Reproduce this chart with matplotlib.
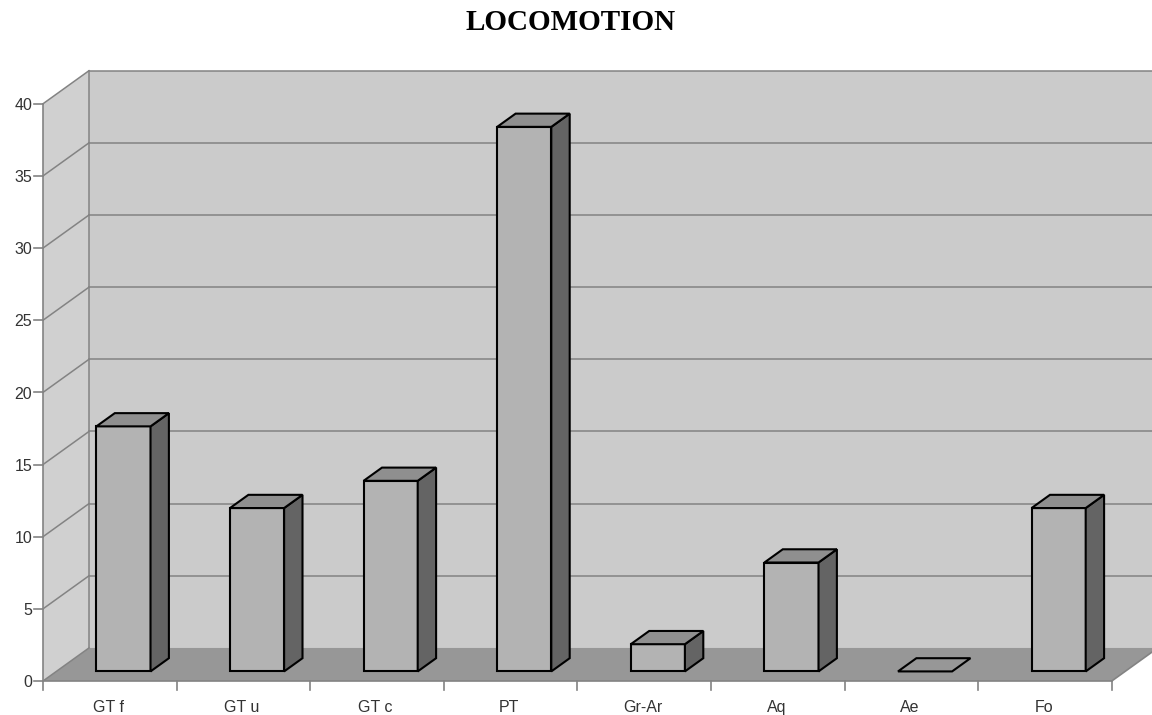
import matplotlib
matplotlib.use("Agg")
import matplotlib.pyplot as plt
from matplotlib.patches import Polygon

# Locomotion categories and their share (%) of the 53 cases
categories = ["GT f", "GT u", "GT c", "PT", "Gr-Ar", "Aq", "Ae", "Fo"]
counts = [9, 6, 7, 20, 1, 4, 0, 6]
total = sum(counts)
values = [100.0 * c / total for c in counts]
yticks = [0, 5, 10, 15, 20, 25, 30, 35, 40]
title = "LOCOMOTION"

# pseudo-3D geometry (in data units)
YMAX = 40
DX, DY = 0.344, 2.29          # depth offset of the back wall
BAR_X0, BAR_X1 = 0.30, 0.705  # bar span inside a category slot
BAR_D0, BAR_D1 = 0.29, 0.69   # bar depth span (fraction of the depth)
N = len(categories)

WALL = "#cbcbcb"
SIDE_WALL = "#d0d0d0"
FLOOR = "#979797"
GRID = "#838383"
FRONT = "#b3b3b3"
TOP = "#8f8f8f"
SIDE = "#646464"
LABEL_FONT = "Liberation Sans"

fig = plt.figure(figsize=(11.52, 7.15), dpi=100)
ax = fig.add_axes([0, 0, 1, 1])
ax.set_xlim(-0.3219, 8.301)
ax.set_ylim(-2.356, 47.19)
ax.axis("off")


def poly(pts, fc, ec="none", lw=0.0, z=1):
    ax.add_patch(Polygon(pts, closed=True, facecolor=fc, edgecolor=ec,
                         linewidth=lw, zorder=z, joinstyle="miter"))


# back wall, side wall, floor
poly([(DX, DY), (N + DX, DY), (N + DX, YMAX + DY), (DX, YMAX + DY)], WALL, z=1)
poly([(0, 0), (DX, DY), (DX, YMAX + DY), (0, YMAX)], SIDE_WALL, z=1)
poly([(0, 0), (N, 0), (N + DX, DY), (DX, DY)], FLOOR, z=2)

# gridlines on back and side walls
for t in yticks[1:]:
    ax.plot([DX, N + DX], [t + DY, t + DY], color=GRID, lw=1.1, zorder=1.5)
    ax.plot([0, DX], [t, t + DY], color=GRID, lw=1.1, zorder=1.5)
ax.plot([DX, DX], [DY, YMAX + DY], color=GRID, lw=1.1, zorder=1.5)
ax.plot([0, DX], [0, DY], color=GRID, lw=1.1, zorder=2.5)

# axes lines and ticks
ax.plot([0, 0], [0, YMAX], color=GRID, lw=1.2, zorder=3)
ax.plot([0, N], [0, 0], color=GRID, lw=1.2, zorder=3)
ax.plot([N, N + DX], [0, DY], color=GRID, lw=1.2, zorder=3)
for t in yticks:
    ax.plot([-0.065, 0], [t, t], color=GRID, lw=1.2, zorder=3)
    ax.text(-0.082, t - 0.12, str(t), ha="right", va="center", fontsize=11.5,
            color="#333333", family=LABEL_FONT)
for k in range(N + 1):
    ax.plot([k, k], [0, -0.62], color=GRID, lw=1.2, zorder=3)
for i, lab in enumerate(categories):
    ax.text(i + 0.49, -1.85, lab, ha="center", va="center", fontsize=11.5,
            color="#333333", family=LABEL_FONT)

# bars
for i, v in enumerate(values):
    x0, x1 = i + BAR_X0, i + BAR_X1
    fx, fy = BAR_D0 * DX, BAR_D0 * DY
    bx, by = BAR_D1 * DX, BAR_D1 * DY
    z = 5 + i
    if v > 0:
        poly([(x0 + fx, fy), (x1 + fx, fy), (x1 + fx, v + fy), (x0 + fx, v + fy)],
             FRONT, "black", 1.5, z)
        poly([(x1 + fx, fy), (x1 + bx, by), (x1 + bx, v + by), (x1 + fx, v + fy)],
             SIDE, "black", 1.5, z)
    poly([(x0 + fx, v + fy), (x1 + fx, v + fy), (x1 + bx, v + by), (x0 + bx, v + by)],
         TOP if v > 0 else FLOOR, "black", 1.5, z)

ax.text(4.0 - 0.05, 45.6, title, ha="center", va="center", fontsize=21,
        fontweight="bold", family="Liberation Serif", color="black")

fig.savefig("out.png", dpi=100, facecolor="white")
